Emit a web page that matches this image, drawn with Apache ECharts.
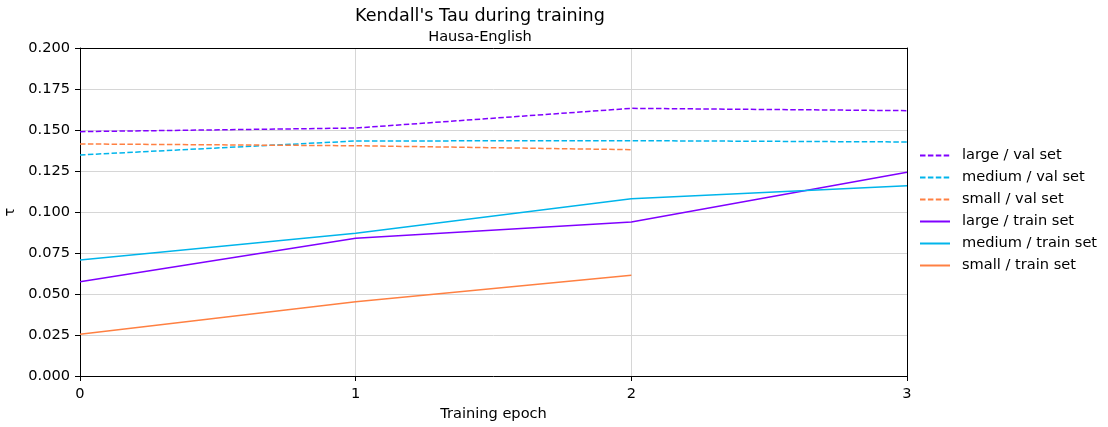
<!DOCTYPE html>
<html><head><meta charset="utf-8">
<script src="https://cdn.jsdelivr.net/npm/echarts@6/dist/echarts.min.js"></script>
<style>html,body{margin:0;padding:0;background:#fff}#c{width:1108px;height:427px}</style>
</head><body><div id="c"></div>
<script>
const epochs = [0, 1, 2, 3];
const largeVal = [0.1490, 0.1512, 0.1632, 0.1618];
const mediumVal = [0.1348, 0.1433, 0.1435, 0.1427];
const smallVal = [0.1415, 0.1404, 0.1380];
const largeTrain = [0.0575, 0.0840, 0.0939, 0.1242];
const mediumTrain = [0.0707, 0.0870, 0.1081, 0.1160];
const smallTrain = [0.0254, 0.0453, 0.0614];
const yTicks = [0, 0.025, 0.05, 0.075, 0.1, 0.125, 0.15, 0.175, 0.2];

const colors = {large: '#8000ff', medium: '#00b5eb', small: '#ff8042'};
const font = 'DejaVu Sans';
const fs = 14.6;

function pts(vals){ return vals.map((v,i)=>[epochs[i], v]); }
function mk(name, vals, color, dashed){
  return {name, type:'line', data: pts(vals), showSymbol:false, symbol:'none',
    lineStyle:{color, width:1.5, type: dashed ? [5.5,2.4] : 'solid'},
    itemStyle:{color}, animation:false};
}
const frameAxis = {show:true, axisLine:{show:true, onZero:false, lineStyle:{color:'#000', width:1}},
  axisTick:{show:false}, axisLabel:{show:false}, splitLine:{show:false}};
const chart = echarts.init(document.getElementById('c'), null, {renderer:'canvas'});
chart.setOption({
  animation:false,
  title:[
    {text:"Kendall's Tau during training", left:475, top:2, textAlign:'center',
     textStyle:{fontFamily:font, fontSize:17.6, fontWeight:'normal', color:'#000'}},
    {text:'Hausa-English', left:475, top:25, textAlign:'center',
     textStyle:{fontFamily:font, fontSize:fs, fontWeight:'normal', color:'#000'}}
  ],
  grid:{left:80, right:201, top:48, bottom:51, outerBoundsMode:'none', containLabel:false},
  legend:{orient:'vertical', left:914, top:143, itemWidth:30, itemHeight:14, itemGap:7,
    itemStyle:{opacity:0},
    textStyle:{fontFamily:font, fontSize:fs, color:'#000', padding:[0,0,0,7]}},
  xAxis:[{type:'value', min:0, max:3, interval:1, name:'Training epoch', nameLocation:'middle', nameGap:31,
    nameTextStyle:{fontFamily:font, fontSize:fs, color:'#000'},
    axisLine:{show:true, onZero:false, lineStyle:{color:'#000', width:1}},
    axisTick:{show:true, length:5, inside:false, lineStyle:{color:'#000'}},
    axisLabel:{fontFamily:font, fontSize:fs, color:'#000', margin:11, formatter: v=>String(v)},
    splitLine:{show:true, lineStyle:{color:'#d6d6d6', width:1}}},
    Object.assign({type:'value', min:0, max:3, position:'top'}, frameAxis)],
  yAxis:[{type:'value', min:0, max:0.2, interval:0.025, name:'τ', nameLocation:'middle', nameGap:58,
    nameTextStyle:{fontFamily:font, fontSize:fs, color:'#000'},
    axisLine:{show:true, onZero:false, lineStyle:{color:'#000', width:1}},
    axisTick:{show:true, length:5, inside:false, lineStyle:{color:'#000'}},
    axisLabel:{fontFamily:font, fontSize:fs, color:'#000', margin:10,
      formatter: v=>{ const t = yTicks.find(x=>Math.abs(x-v)<1e-9); return (t!==undefined?t:v).toFixed(3);} },
    splitLine:{show:true, lineStyle:{color:'#d6d6d6', width:1}}},
    Object.assign({type:'value', min:0, max:0.2, position:'right'}, frameAxis)],
  series:[
    mk('large / val set', largeVal, colors.large, true),
    mk('medium / val set', mediumVal, colors.medium, true),
    mk('small / val set', smallVal, colors.small, true),
    mk('large / train set', largeTrain, colors.large, false),
    mk('medium / train set', mediumTrain, colors.medium, false),
    mk('small / train set', smallTrain, colors.small, false)
  ]
});
</script></body></html>
